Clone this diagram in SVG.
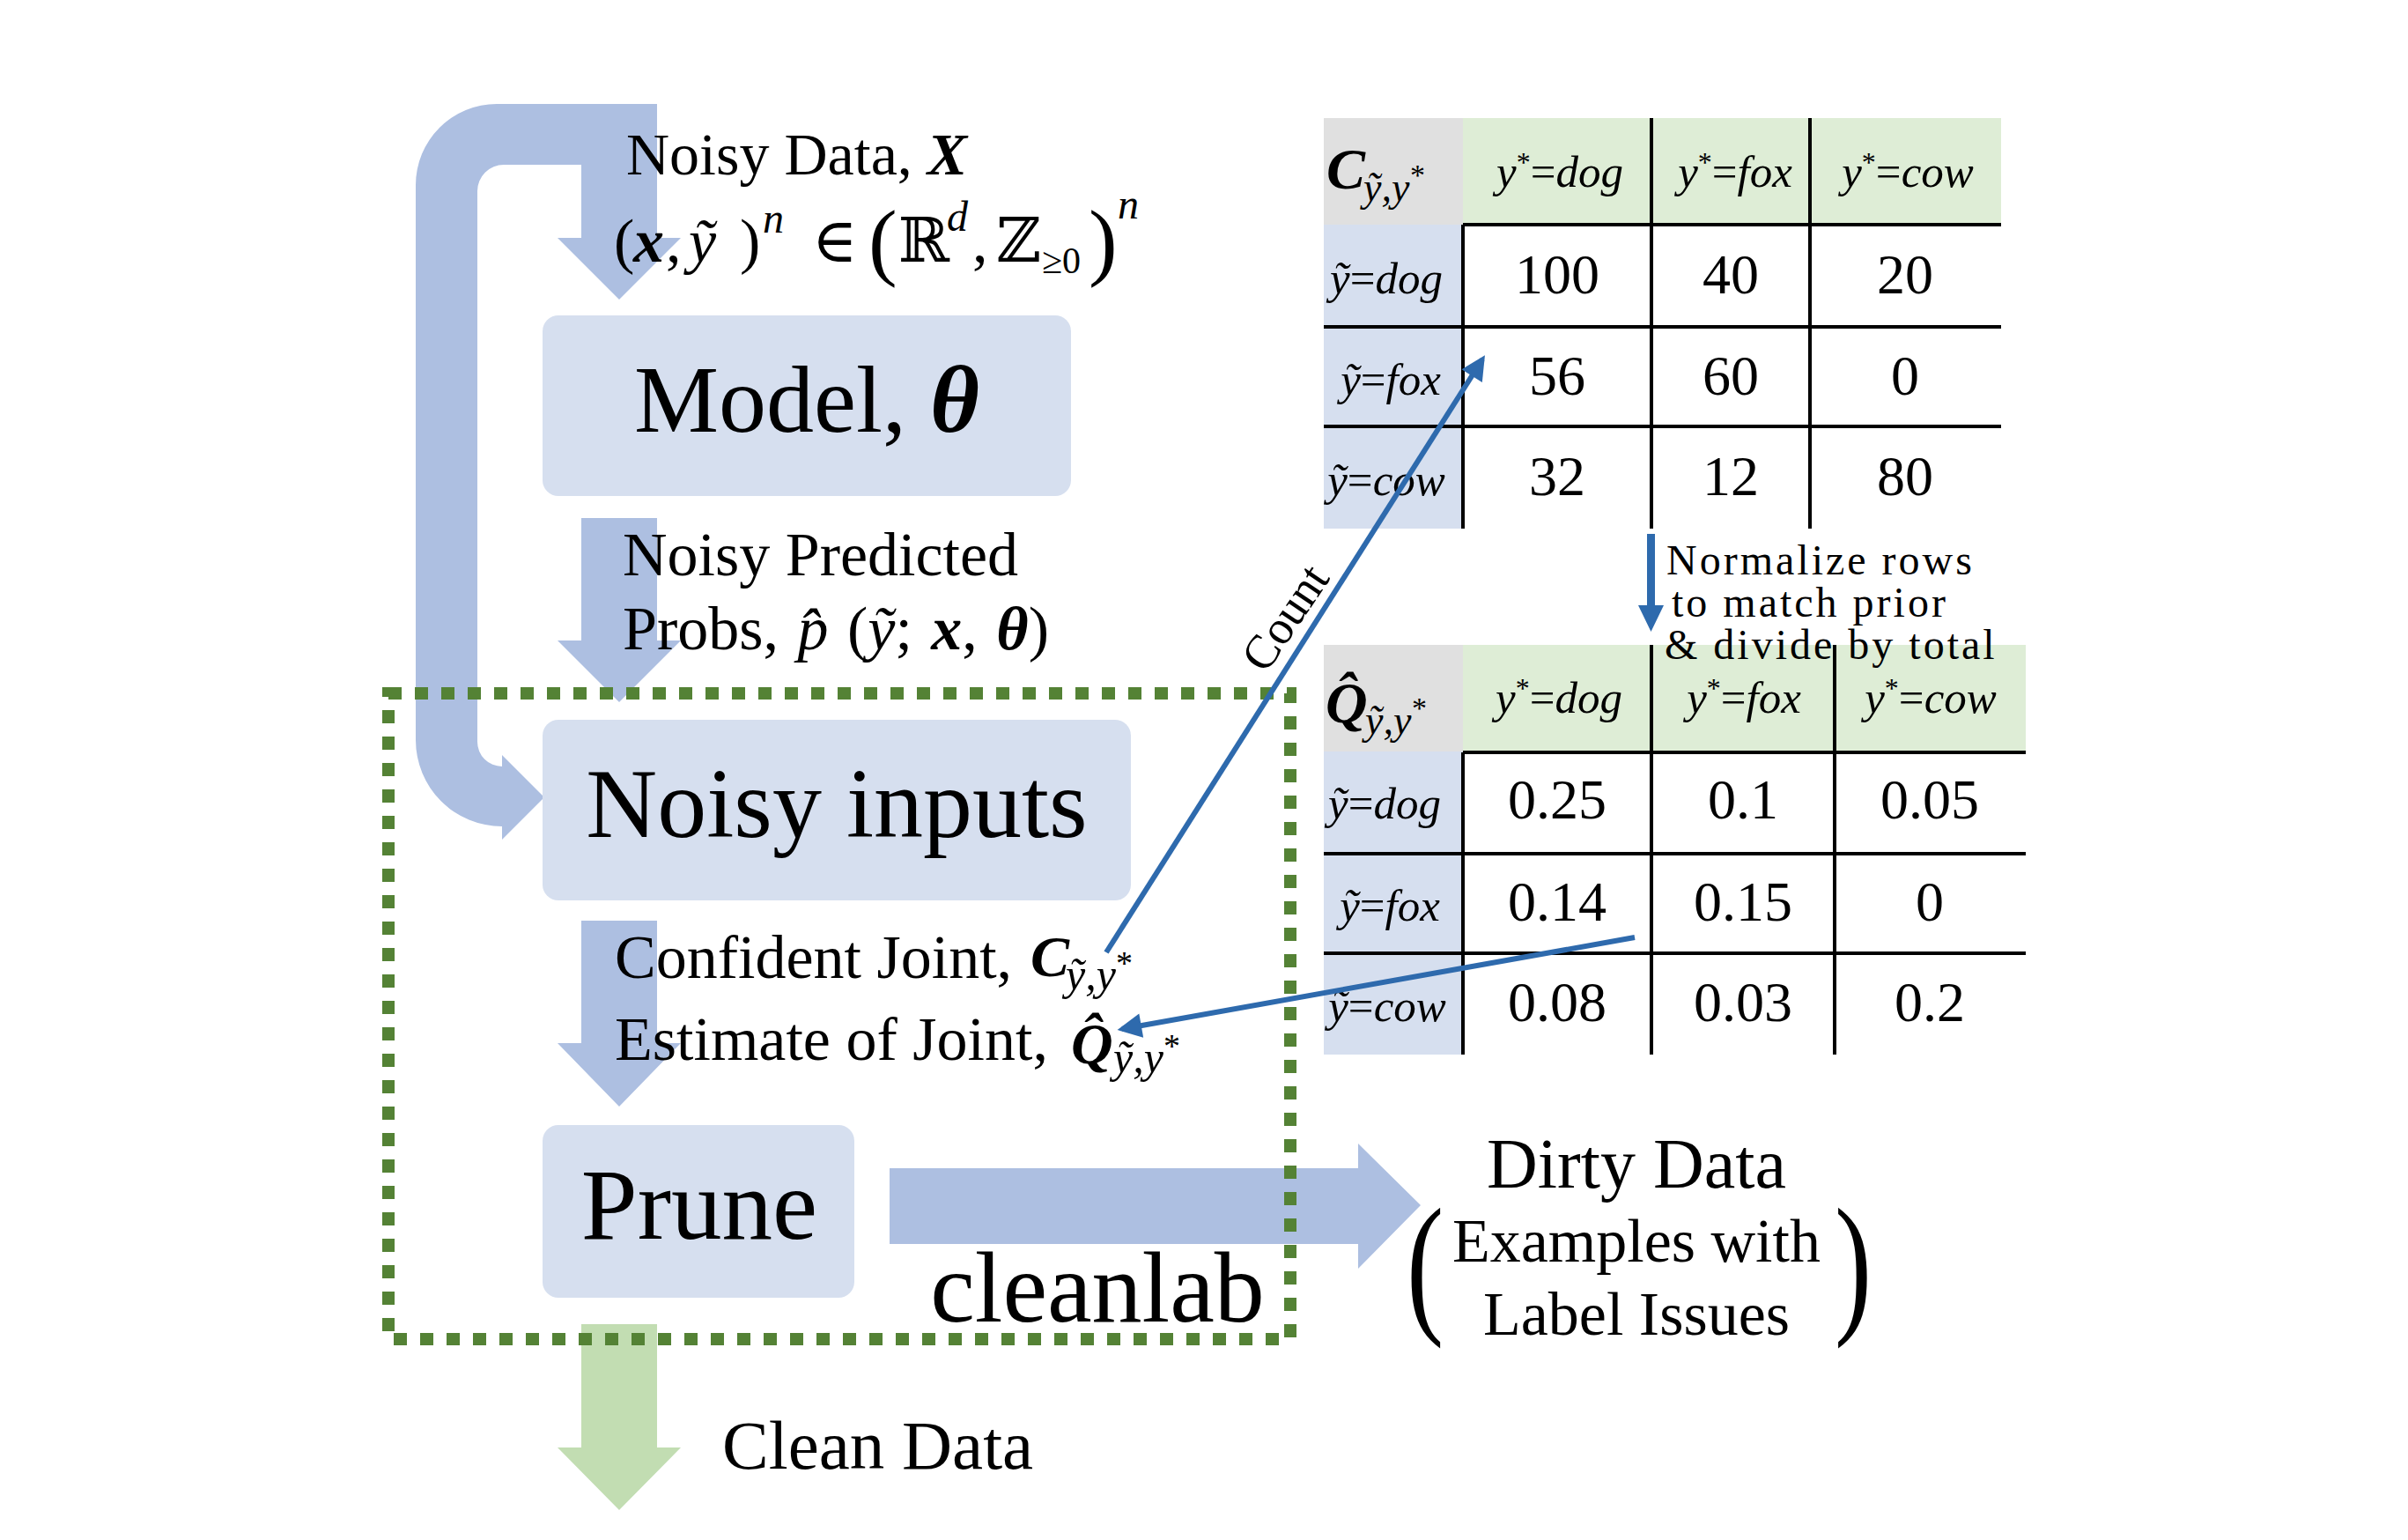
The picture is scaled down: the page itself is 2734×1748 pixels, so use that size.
<svg xmlns="http://www.w3.org/2000/svg" width="2734" height="1748" viewBox="0 0 2734 1748">
<style>
text { font-family: 'Liberation Serif', 'DejaVu Serif', serif; fill: #000; }
.box { fill: #D6DFEF; }
.flow { fill: #ADBFE1; }
.green { fill: #C2DDB2; }
.hdr { fill: #DEEDD6; }
.gray { fill: #E0E0E0; }
.rowh { fill: #D6DFEF; }
.grid { stroke: #000; stroke-width: 4; fill: none; }
.blue { stroke: #2E6AAD; stroke-width: 6; fill: none; }
.dots { fill: none; stroke: #548235; stroke-width: 14; stroke-dasharray: 15 15; }
.it { font-style: italic; }
.bi { font-style: italic; font-weight: bold; }
.lbl { font-size: 70px; }
.cell { font-size: 64px; text-anchor: middle; }
.small { font-size: 51px; text-anchor: middle; }
.norm { font-size: 48px; letter-spacing: 3px; }
</style>
<defs>
<marker id="ah" viewBox="0 0 10 10" refX="8" refY="5" markerWidth="5.2" markerHeight="4.6" orient="auto" markerUnits="strokeWidth">
<path d="M0 0 L10 5 L0 10 Z" fill="#2E6AAD"/>
</marker>
</defs>
<rect width="2734" height="1748" fill="#fff"/>

<g id="connectors">
<path id="loop-arrow" class="flow" d="M700 118 L564 118 A92 92 0 0 0 472 210 L472 840 A98 98 0 0 0 570 938 L570 953 L618 905 L570 857 L570 870 A28 28 0 0 1 542 842 L542 217 A30 30 0 0 1 572 187 L700 187 Z"/>
<path id="arrow-data-model" class="flow" d="M660 118 H746 V270 H773 L703 340 L633 270 H660 Z"/>
<path id="arrow-model-inputs" class="flow" d="M660 588 H746 V727 H773 L703 797 L633 727 H660 Z"/>
<path id="arrow-inputs-prune" class="flow" d="M660 1045 H746 V1184 H773 L703 1256 L633 1184 H660 Z"/>
<path id="arrow-prune-dirty" class="flow" d="M1010 1326 H1542 V1298 L1613 1368 L1542 1440 V1412 H1010 Z"/>
<path id="arrow-clean" class="green" d="M660 1503 H746 V1643 H773 L703 1714 L633 1643 H660 Z"/>
<path id="arrow-normalize" fill="#2E6AAD" d="M1870 606 H1879 V687 H1889 L1874.5 717 L1860 687 H1870 Z"/>
</g>

<g id="node-noisy-data">
<text x="711" y="198" font-size="68">Noisy Data, <tspan class="bi">X</tspan></text>
<text y="297" font-size="70">
<tspan x="697">(</tspan><tspan x="719" class="bi">x</tspan><tspan x="756">,</tspan><tspan x="782" class="it">ỹ</tspan><tspan x="840">)</tspan><tspan x="866" y="264" font-size="48" class="it">n</tspan><tspan x="922" y="297">∈</tspan><tspan x="986" y="306" font-size="98">(</tspan><tspan x="1020" y="297">ℝ</tspan><tspan x="1075" y="262" font-size="48" class="it">d</tspan><tspan x="1104" y="297">,</tspan><tspan x="1131" y="297">ℤ</tspan><tspan x="1183" y="310" font-size="42">≥0</tspan><tspan x="1236" y="306" font-size="98">)</tspan><tspan x="1269" y="248" font-size="48" class="it">n</tspan>
</text>
</g>

<g id="node-model">
<rect class="box" x="616" y="358" width="600" height="205" rx="18"/>
<text x="916" y="490" font-size="108" text-anchor="middle">Model, <tspan class="bi">θ</tspan></text>
</g>

<g id="label-probs">
<text x="707" y="653" class="lbl">Noisy Predicted</text>
<text x="707" y="737" font-size="70" word-spacing="4">Probs, <tspan class="it">p̂</tspan> (<tspan class="it">ỹ</tspan>; <tspan class="bi">x</tspan>, <tspan class="bi">θ</tspan>)</text>
</g>

<g id="node-noisy-inputs">
<rect class="box" x="616" y="817" width="668" height="205" rx="18"/>
<text x="950" y="950" font-size="112" text-anchor="middle">Noisy inputs</text>
</g>

<g id="label-joint">
<text x="698" y="1110" class="lbl">Confident Joint,</text>
<text x="1170" y="1108" font-size="66" class="bi">C</text>
<text x="1210" y="1123" font-size="50" class="it">ỹ,y</text>
<text x="1267" y="1106" font-size="38">*</text>
<text x="698" y="1203" class="lbl">Estimate of Joint,</text>
<text x="1216" y="1207" font-size="66" class="bi">Q̂</text>
<text x="1264" y="1217" font-size="50" class="it">ỹ,y</text>
<text x="1321" y="1200" font-size="38">*</text>
</g>

<g id="node-prune">
<rect class="box" x="616" y="1277" width="354" height="196" rx="18"/>
<text x="794" y="1406" font-size="115" text-anchor="middle">Prune</text>
</g>

<g id="node-cleanlab">
<rect class="dots" x="441" y="787" width="1024" height="733"/>
<text x="1246" y="1500" font-size="114" text-anchor="middle">cleanlab</text>
</g>

<g id="node-clean-data">
<text x="820" y="1667" font-size="79">Clean Data</text>
</g>

<g id="node-dirty-data">
<text x="1858" y="1348" font-size="80" text-anchor="middle">Dirty Data</text>
<text x="1858" y="1432" font-size="70" text-anchor="middle">Examples with</text>
<text x="1858" y="1515" font-size="70" text-anchor="middle">Label Issues</text>
<text transform="translate(1597,1493) scale(0.72,1)" font-size="176">(</text>
<text transform="translate(2083,1493) scale(0.72,1)" font-size="176">)</text>
</g>

<g id="node-table-c">
<rect class="gray" x="1503" y="134" width="158" height="121"/>
<rect class="hdr" x="1661" y="134" width="611" height="121"/>
<rect class="rowh" x="1503" y="255" width="158" height="345"/>
<path class="grid" d="M1661 255 H2272 M1503 371 H2272 M1503 484 H2272 M1661 255 V600 M1875 134 V600 M2055 134 V600"/>
<text x="1506" y="214" font-size="66" class="bi">C</text>
<text x="1548" y="228" font-size="46" class="it">ỹ,y</text>
<text x="1601" y="210" font-size="34">*</text>
<text x="1771" y="212" class="small"><tspan class="it">y</tspan><tspan font-size="32" dy="-17">*</tspan><tspan dy="17">=</tspan><tspan class="it">dog</tspan></text>
<text x="1970" y="212" class="small"><tspan class="it">y</tspan><tspan font-size="32" dy="-17">*</tspan><tspan dy="17">=</tspan><tspan class="it">fox</tspan></text>
<text x="2166" y="212" class="small"><tspan class="it">y</tspan><tspan font-size="32" dy="-17">*</tspan><tspan dy="17">=</tspan><tspan class="it">cow</tspan></text>
<text x="1574" y="333" class="small"><tspan class="it">ỹ</tspan>=<tspan class="it">dog</tspan></text>
<text x="1579" y="448" class="small"><tspan class="it">ỹ</tspan>=<tspan class="it">fox</tspan></text>
<text x="1574" y="562" class="small"><tspan class="it">ỹ</tspan>=<tspan class="it">cow</tspan></text>
<text x="1768" y="333" class="cell">100</text>
<text x="1965" y="333" class="cell">40</text>
<text x="2163" y="333" class="cell">20</text>
<text x="1768" y="448" class="cell">56</text>
<text x="1965" y="448" class="cell">60</text>
<text x="2163" y="448" class="cell">0</text>
<text x="1768" y="562" class="cell">32</text>
<text x="1965" y="562" class="cell">12</text>
<text x="2163" y="562" class="cell">80</text>
</g>

<g id="node-table-q">
<rect class="gray" x="1503" y="732" width="158" height="121"/>
<rect class="hdr" x="1661" y="732" width="639" height="121"/>
<rect class="rowh" x="1503" y="853" width="158" height="344"/>
<path class="grid" d="M1661 854 H2300 M1503 969 H2300 M1503 1082 H2300 M1661 854 V1197 M1875 732 V1197 M2083 732 V1197"/>
<text x="1505" y="820" font-size="66" class="bi">Q̂</text>
<text x="1550" y="833" font-size="46" class="it">ỹ,y</text>
<text x="1603" y="815" font-size="34">*</text>
<text x="1770" y="809" class="small"><tspan class="it">y</tspan><tspan font-size="32" dy="-17">*</tspan><tspan dy="17">=</tspan><tspan class="it">dog</tspan></text>
<text x="1980" y="809" class="small"><tspan class="it">y</tspan><tspan font-size="32" dy="-17">*</tspan><tspan dy="17">=</tspan><tspan class="it">fox</tspan></text>
<text x="2192" y="809" class="small"><tspan class="it">y</tspan><tspan font-size="32" dy="-17">*</tspan><tspan dy="17">=</tspan><tspan class="it">cow</tspan></text>
<text x="1572" y="929" class="small"><tspan class="it">ỹ</tspan>=<tspan class="it">dog</tspan></text>
<text x="1578" y="1045" class="small"><tspan class="it">ỹ</tspan>=<tspan class="it">fox</tspan></text>
<text x="1575" y="1159" class="small"><tspan class="it">ỹ</tspan>=<tspan class="it">cow</tspan></text>
<text x="1768" y="929" class="cell">0.25</text>
<text x="1979" y="929" class="cell">0.1</text>
<text x="2191" y="929" class="cell">0.05</text>
<text x="1768" y="1045" class="cell">0.14</text>
<text x="1979" y="1045" class="cell">0.15</text>
<text x="2191" y="1045" class="cell">0</text>
<text x="1768" y="1159" class="cell">0.08</text>
<text x="1979" y="1159" class="cell">0.03</text>
<text x="2191" y="1159" class="cell">0.2</text>
</g>

<g id="label-normalize">
<text x="1892" y="652" class="norm">Normalize rows</text>
<text x="1898" y="700" class="norm">to match prior</text>
<text x="1890" y="748" class="norm">&amp; divide by total</text>
</g>

<g id="blue-connectors">
<line class="blue" x1="1256" y1="1081" x2="1683" y2="408" marker-end="url(#ah)"/>
<text transform="translate(1474,711) rotate(-56)" font-size="54" text-anchor="middle">Count</text>
<line class="blue" x1="1856" y1="1064" x2="1274" y2="1168" marker-end="url(#ah)"/>
</g>
</svg>
